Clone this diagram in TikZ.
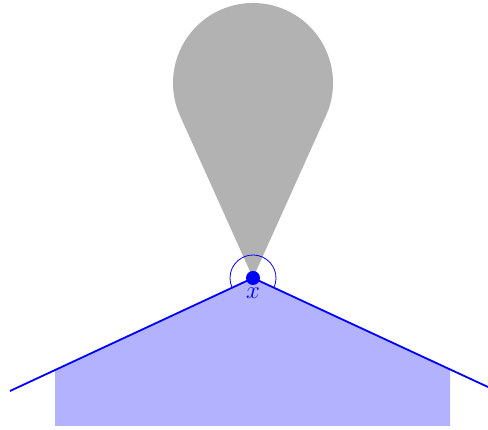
\documentclass[tikz,border=0pt]{standalone}
\usetikzlibrary{calc}
\begin{document}
\begin{tikzpicture}[x=1pt,y=1pt,
  edge/.style={blue,line width=1.8pt},
  ring/.style={blue,line width=0.8pt},
  region/.style={fill=blue!30},
  drop/.style={fill=gray!60}]
\useasboundingbox (0,0) rectangle (488,430);
\coordinate (x) at (253,152);
\coordinate (c) at (253,347);
\coordinate (L) at (10,39);
\coordinate (R) at (488,43);
\coordinate (LB) at (55,4);
\coordinate (LT) at (55,60);
\coordinate (RT) at (450,60.4);
\coordinate (RB) at (450,4);
\fill[region] (LB) -- (LT) -- (x) -- (RT) -- (RB) -- cycle;
\fill[drop] (x) -- ($(c)+(-24.2:80)$) arc[start angle=-24.2,end angle=204.2,radius=80] -- cycle;
\draw[edge] (L) -- (x) -- (R);
\draw[ring] ($(x)+(-24.8:23)$) arc[start angle=-24.8,end angle=204.8,radius=23];
\node[circle,fill=blue,inner sep=0pt,minimum size=14pt] (dot) at (x) {};
\node[text=blue,font=\fontsize{28}{32}\selectfont,inner sep=0pt,anchor=north] (lab) at ([yshift=-2pt]dot.south) {$x$};
\end{tikzpicture}
\end{document}
